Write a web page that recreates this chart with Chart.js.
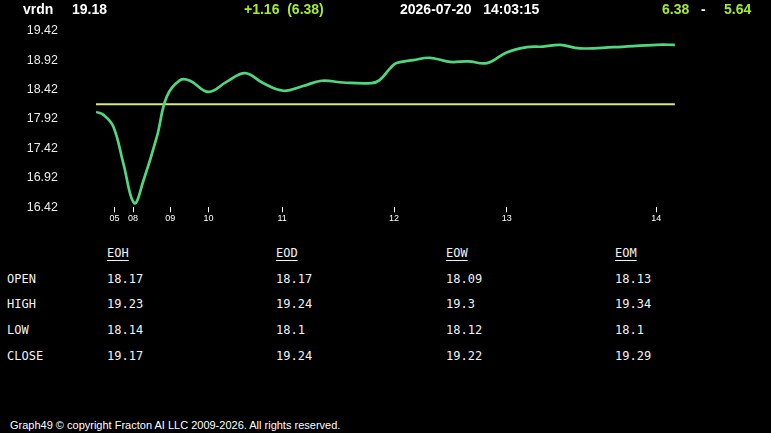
<!DOCTYPE html>
<html>
<head>
<meta charset="utf-8">
<script src="https://cdn.jsdelivr.net/npm/chart.js@4.4.1/dist/chart.umd.min.js"></script>
<style>
  html, body { margin: 0; padding: 0; background: #000; }
  body { width: 771px; height: 433px; position: relative; overflow: hidden; font-family: "Liberation Sans", Arial, sans-serif; color: #fff; }
  .hdr { position: absolute; top: 0px; font-size: 14px; font-weight: bold; line-height: 18px; white-space: pre; }
  .lime { color: #a6ec2c; }
  #chartBox { position: absolute; left: 0; top: 0; width: 771px; height: 240px; }
  .tbl { position: absolute; font-family: "DejaVu Sans Mono", monospace; font-size: 12px; color: #f2f2f2; line-height: 14px; }
  .tbl u { text-decoration: underline; text-underline-offset: 3px; }
  #foot { position: absolute; left: 10px; top: 419px; font-size: 11px; color: #fff; }
</style>
</head>
<body>
<div id="chartBox"><canvas id="chart" width="771" height="240"></canvas></div>

<div class="hdr" style="left:23px">vrdn</div>
<div class="hdr" style="left:72px">19.18</div>
<div class="hdr lime" style="left:244px">+1.16  (6.38)</div>
<div class="hdr" style="left:400px">2026-07-20   14:03:15</div>
<div class="hdr lime" style="left:662px">6.38</div>
<div class="hdr" style="left:701px">-</div>
<div class="hdr lime" style="left:724px">5.64</div>

<div id="table"></div>
<div id="foot">Graph49 © copyright Fracton AI LLC 2009-2026. All rights reserved.</div>

<script>
// price samples, x = sample index along the session
const sampleIdx = [0, 1.3, 3, 4.7, 6.6, 8.2, 10.5, 12.2, 14.5, 16.2, 19.4, 22.5, 25.7, 28.8, 32.3, 35.7, 38.9, 42.6, 47.5, 48.9, 50.7, 51.8, 54.7, 57.6, 61, 64.2, 67.4, 70.8, 74.3, 77.1, 80, 83.4, 89.2, 96.7, 99.8];
const price = [18.04, 17.99, 17.79, 17.17, 16.49, 16.88, 17.62, 18.30, 18.58, 18.57, 18.38, 18.55, 18.70, 18.53, 18.40, 18.48, 18.57, 18.54, 18.53, 18.58, 18.78, 18.87, 18.92, 18.96, 18.89, 18.90, 18.87, 19.05, 19.14, 19.15, 19.18, 19.12, 19.14, 19.18, 19.18];
const openLevel = 18.17;

const xTickPos = [3.2, 6.4, 12.8, 19.4, 32.1, 51.4, 70.8, 96.6];
const xTickLabels = ['05', '08', '09', '10', '11', '12', '13', '14'];
const yTicks = [16.42, 16.92, 17.42, 17.92, 18.42, 18.92, 19.42];

// summary table
const tableCols = ['EOH', 'EOD', 'EOW', 'EOM'];
const rowNames = ['OPEN', 'HIGH', 'LOW', 'CLOSE'];
const eoh = ['18.17', '19.23', '18.14', '19.17'];
const eod = ['18.17', '19.24', '18.1', '19.24'];
const eow = ['18.09', '19.3', '18.12', '19.22'];
const eom = ['18.13', '19.34', '18.1', '19.29'];

const colX = [107, 276, 446, 615];
const rowY = [272, 297, 323, 349];
let html = '';
tableCols.forEach((c, i) => {
  html += `<div class="tbl" style="left:${colX[i]}px;top:246px"><u>${c}</u></div>`;
});
const cols = [eoh, eod, eow, eom];
rowNames.forEach((r, j) => {
  html += `<div class="tbl" style="left:7px;top:${rowY[j]}px">${r}</div>`;
  cols.forEach((col, i) => {
    html += `<div class="tbl" style="left:${colX[i]}px;top:${rowY[j]}px">${col[j]}</div>`;
  });
});
document.getElementById('table').innerHTML = html;

const ctx = document.getElementById('chart').getContext('2d');
new Chart(ctx, {
  type: 'line',
  data: {
    datasets: [
      {
        data: sampleIdx.map((x, i) => ({ x, y: price[i] })),
        borderColor: '#4fd67f',
        borderWidth: 2.7,
        pointRadius: 0,
        tension: 0.4,
        fill: false,
      },
      {
        data: [{ x: sampleIdx[0], y: openLevel }, { x: sampleIdx[sampleIdx.length - 1], y: openLevel }],
        borderColor: '#d8e87a',
        borderWidth: 2,
        pointRadius: 0,
        fill: false,
      },
    ],
  },
  options: {
    responsive: false,
    animation: false,
    layout: { padding: { top: 30.7, right: 95, bottom: 0, left: 0 } },
    plugins: { legend: { display: false }, tooltip: { enabled: false } },
    scales: {
      x: {
        type: 'linear',
        min: 0,
        max: 100,
        border: { display: false },
        grid: { drawOnChartArea: false, drawTicks: true, tickLength: 5, tickColor: '#ffffff', lineWidth: 1 },
        afterBuildTicks: (scale) => { scale.ticks = xTickPos.map(v => ({ value: v })); },
        afterFit: (scale) => { scale.height = 32.7; },
        ticks: {
          autoSkip: false,
          maxRotation: 0,
          padding: 1,
          color: '#ffffff',
          font: { family: 'Liberation Sans, Arial', size: 9 },
          callback: (v, i) => xTickLabels[i],
        },
      },
      y: {
        min: 16.42,
        max: 19.42,
        border: { display: false },
        grid: { display: false },
        afterBuildTicks: (scale) => { scale.ticks = yTicks.map(v => ({ value: v })); },
        afterFit: (scale) => {
          scale.width = 96;
          // tick padding is only meant to push labels left, not to grow the top/bottom margin
          scale.paddingTop = 0;
          scale.paddingBottom = 0;
        },
        ticks: {
          padding: 30,
          color: '#ececec',
          font: { family: 'Liberation Sans, Arial', size: 12.5 },
          callback: (v) => Number(v).toFixed(2),
        },
      },
    },
  },
});
</script>
</body>
</html>
